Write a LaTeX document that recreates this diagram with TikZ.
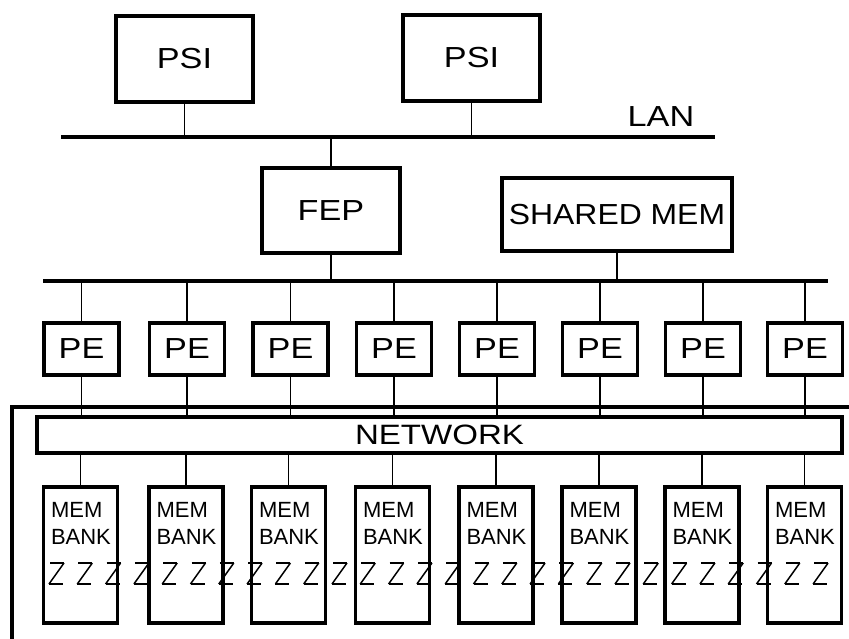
\documentclass[tikz,border=0pt]{standalone}
\usepackage{fontspec}
\setmainfont{Liberation Sans}
\newfontfamily\widefont[FakeStretch=1.18]{Liberation Sans}
\newfontfamily\midfont[FakeStretch=1.1]{Liberation Sans}
\begin{document}
\begin{tikzpicture}[x=1pt,y=-1pt,
  box/.style={draw,line width=3.4pt,inner sep=0pt},
  wire/.style={line width=1.8pt},
  bus/.style={line width=3.2pt},
  big/.style={font=\widefont\fontsize{29}{30}\selectfont},
  membox/.style={box,minimum width=74pt,minimum height=136pt},
  pebox/.style={box,minimum width=75pt,minimum height=52pt,big}]
\useasboundingbox (0,0) rectangle (849,639);
% top level
\node[box,minimum width=137pt,minimum height=86pt,big] (psi1) at (184.5,59) {PSI};
\node[box,minimum width=137pt,minimum height=86pt,big] (psi2) at (471.5,58) {PSI};
\coordinate (lanL) at (61,137);
\coordinate (lanR) at (715,137);
\draw[bus] (lanL) -- (lanR);
\node[big] (lan) at (661,117) {LAN};
\draw[wire] (psi1.south) -- (psi1.south |- lanL);
\draw[wire] (psi2.south) -- (psi2.south |- lanL);
\node[box,minimum width=138pt,minimum height=85pt,big] (fep) at (331,210.5) {FEP};
\node[box,minimum width=230pt,minimum height=73pt,font=\midfont\fontsize{29}{30}\selectfont] (shm) at (617,214.5) {SHARED MEM};
\draw[wire] (fep.north |- lanL) -- (fep.north);
\coordinate (busL) at (43,281);
\coordinate (busR) at (828,281);
\draw[bus] (busL) -- (busR);
\draw[wire] (fep.south) -- (fep.south |- busL);
\draw[wire] (shm.south) -- (shm.south |- busL);
% frame and network
\coordinate (frBL) at (12,639);
\coordinate (frTL) at (12,407);
\coordinate (frTR) at (849,407);
\draw[line width=3.2pt] (frBL) -- (frTL) -- (frTR);
\node[box,minimum width=805pt,minimum height=36pt,font=\widefont\fontsize{28}{29}\selectfont] (net) at (439.5,435) {NETWORK};
% PEs and mem banks
\foreach \i/\px/\mx in {1/81.5/80.5,2/187/186,3/290.5/288.5,4/394/392.5,5/497/496,6/600/599,7/703/702,8/805/804.5}{
  \node[pebox] (pe\i) at (\px,349) {PE};
  \draw[wire] (pe\i.north |- busL) -- (pe\i.north);
  \draw[wire] (pe\i.south) -- (pe\i.south |- net.north);
  \node[membox,label={[anchor=north west,inner sep=0pt,yshift=-17pt,align=left,font=\fontsize{22}{27}\selectfont]north west:{\hspace{9pt}MEM\\\hspace{9pt}BANK}}] (mem\i) at (\mx,555) {};
  \draw[wire] (net.south -| mem\i.north) -- (mem\i.north);
}
% broken band (Z pattern)
\foreach \k in {0,...,27}{
  \pgfmathsetmacro{\xa}{46+28.3*\k}
  \draw[line width=2.2pt] (\xa+4,563) -- (\xa+18,563);
  \draw[line width=1.5pt] (\xa+18,563) -- (\xa+3,584);
  \draw[line width=2.2pt] (\xa+3,584) -- (\xa+17,584);
}
\end{tikzpicture}
\end{document}
